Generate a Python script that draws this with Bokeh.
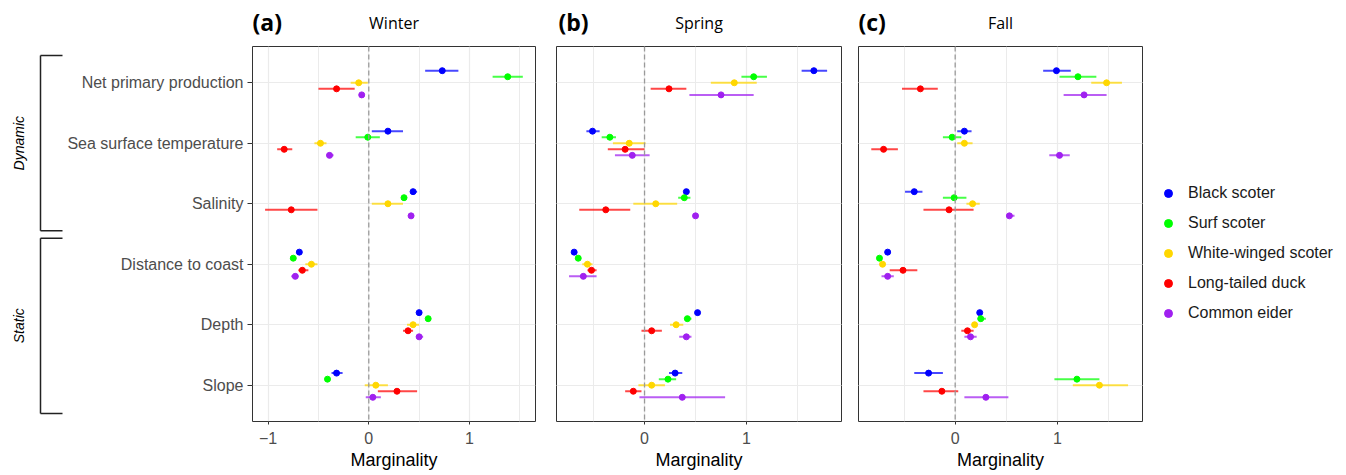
import math
from bokeh.plotting import figure
from bokeh.models import Range1d, FixedTicker, Span, Legend, LegendItem, Grid
from bokeh.layouts import row, column
from bokeh.embed import file_html
from bokeh.resources import INLINE
from bokeh.core.properties import value

# ---------------- data ----------------
variables = ["Net primary production", "Sea surface temperature", "Salinity",
             "Distance to coast", "Depth", "Slope"]
species = ["Black scoter", "Surf scoter", "White-winged scoter", "Long-tailed duck", "Common eider"]
colors = ["#0000FF", "#00FF00", "#FFD700", "#FF0000", "#A020F0"]
seasons = ["Winter", "Spring", "Fall"]
panel_tags = ["(a)", "(b)", "(c)"]
groups = ["Dynamic", "Static"]
x_ticks = [-1, 0, 1]
x_minor_ticks = [-1.5, -0.5, 0.5, 1.5]

# rows = species, columns = variables
winter_est = [[0.73, 0.19, 0.44, -0.69, 0.50, -0.32],
              [1.38, -0.01, 0.35, -0.75, 0.59, -0.41],
              [-0.10, -0.48, 0.19, -0.57, 0.44, 0.07],
              [-0.32, -0.84, -0.77, -0.66, 0.39, 0.28],
              [-0.07, -0.39, 0.42, -0.73, 0.50, 0.04]]
winter_lo = [[0.56, 0.03, 0.42, -0.70, 0.49, -0.37],
             [1.23, -0.13, 0.33, -0.76, 0.58, -0.42],
             [-0.18, -0.54, 0.03, -0.63, 0.38, -0.04],
             [-0.50, -0.91, -1.03, -0.70, 0.34, 0.09],
             [-0.08, -0.42, 0.41, -0.77, 0.47, -0.03]]
winter_hi = [[0.89, 0.34, 0.48, -0.68, 0.51, -0.26],
             [1.53, 0.11, 0.38, -0.74, 0.60, -0.40],
             [-0.01, -0.42, 0.34, -0.51, 0.50, 0.19],
             [-0.14, -0.76, -0.51, -0.60, 0.44, 0.48],
             [-0.06, -0.35, 0.43, -0.70, 0.54, 0.12]]

spring_est = [[1.66, -0.51, 0.41, -0.69, 0.52, 0.30],
              [1.07, -0.34, 0.39, -0.65, 0.42, 0.23],
              [0.88, -0.15, 0.11, -0.56, 0.31, 0.07],
              [0.24, -0.19, -0.38, -0.52, 0.07, -0.11],
              [0.75, -0.12, 0.50, -0.60, 0.41, 0.37]]
spring_lo = [[1.54, -0.57, 0.40, -0.70, 0.51, 0.24],
             [0.95, -0.42, 0.33, -0.66, 0.39, 0.14],
             [0.65, -0.31, -0.11, -0.61, 0.25, -0.06],
             [0.06, -0.36, -0.64, -0.56, -0.03, -0.19],
             [0.44, -0.29, 0.49, -0.74, 0.34, -0.05]]
spring_hi = [[1.79, -0.44, 0.42, -0.68, 0.53, 0.37],
             [1.20, -0.28, 0.45, -0.64, 0.46, 0.31],
             [1.10, 0.01, 0.32, -0.51, 0.38, 0.20],
             [0.41, 0.00, -0.14, -0.47, 0.17, -0.03],
             [1.07, 0.05, 0.51, -0.47, 0.46, 0.79]]

fall_est = [[0.99, 0.09, -0.40, -0.66, 0.24, -0.26],
            [1.20, -0.03, -0.01, -0.74, 0.25, 1.19],
            [1.48, 0.09, 0.17, -0.71, 0.19, 1.41],
            [-0.34, -0.70, -0.06, -0.51, 0.12, -0.13],
            [1.26, 1.02, 0.53, -0.66, 0.15, 0.30]]
fall_lo = [[0.86, 0.02, -0.49, -0.67, 0.23, -0.40],
           [1.02, -0.12, -0.12, -0.75, 0.22, 0.97],
           [1.33, 0.02, 0.11, -0.73, 0.18, 1.15],
           [-0.52, -0.82, -0.31, -0.64, 0.06, -0.31],
           [1.06, 0.92, 0.50, -0.72, 0.09, 0.09]]
fall_hi = [[1.13, 0.16, -0.32, -0.65, 0.25, -0.12],
           [1.38, 0.06, 0.11, -0.73, 0.30, 1.41],
           [1.63, 0.17, 0.24, -0.69, 0.21, 1.69],
           [-0.17, -0.56, 0.18, -0.37, 0.18, 0.03],
           [1.48, 1.12, 0.58, -0.60, 0.21, 0.52]]

season_data = [(winter_est, winter_lo, winter_hi),
               (spring_est, spring_lo, spring_hi),
               (fall_est, fall_lo, fall_hi)]

# ---------------- layout constants ----------------
HEAD_H = 46
FRAME_H = 376
B_BOT = 50
PANEL_H = FRAME_H + B_BOT
TOTAL_H = HEAD_H + PANEL_H
Y_START, Y_END = 6.6, 0.4
dodge = [-0.2, -0.1, 0.0, 0.1, 0.2]
x_ranges = [(-1.155, 1.656), (-0.863, 1.931), (-0.945, 1.831)]
borders = [(187, 5), (16, 5), (12, 5)]
frame_w = [284, 285, 284]
tag_dx = [0, 2, 0]

AXIS_FONT = "Liberation Sans"
TITLE_FONT = "Open Sans"
GRID_C = "#EBEBEB"


def bare(p):
    p.outline_line_color = None
    p.grid.visible = False
    p.background_fill_color = "white"
    p.border_fill_color = "white"
    return p


def make_panel(k):
    est, lo, hi = season_data[k]
    bl, br = borders[k]
    xr = x_ranges[k]
    width = bl + frame_w[k] + br
    show_y = (k == 0)
    p = figure(width=width, height=PANEL_H,
               x_range=Range1d(*xr), y_range=Range1d(Y_START, Y_END),
               output_backend="svg", toolbar_location=None,
               min_border_left=bl, min_border_right=br,
               min_border_top=0, min_border_bottom=B_BOT,
               y_axis_location="left" if show_y else None)
    p.outline_line_color = "#333333"
    p.outline_line_width = 1
    p.background_fill_color = "white"
    p.border_fill_color = "white"

    xt = FixedTicker(ticks=x_ticks, minor_ticks=x_minor_ticks)
    p.xaxis.ticker = xt
    p.xaxis.axis_label = "Marginality"
    p.xaxis.axis_label_text_font = AXIS_FONT
    p.xaxis.axis_label_text_font_size = "18px"
    p.xaxis.axis_label_text_font_style = "normal"
    p.xaxis.axis_label_text_color = "#000000"
    p.xaxis.axis_label_standoff = 3
    p.xaxis.major_label_text_font = AXIS_FONT
    p.xaxis.major_label_text_font_size = "16px"
    p.xaxis.major_label_text_color = "#4D4D4D"
    p.xaxis.major_label_standoff = 7
    p.xaxis.major_tick_out = 3
    p.xaxis.major_tick_in = 0
    p.xaxis.minor_tick_out = 0
    p.xaxis.minor_tick_in = 0
    p.xaxis.major_tick_line_color = "#333333"
    p.xaxis.axis_line_color = None
    p.xgrid.grid_line_color = GRID_C
    p.xgrid.grid_line_width = 1.2
    p.xgrid.minor_grid_line_color = GRID_C
    p.xgrid.minor_grid_line_width = 1

    yt = FixedTicker(ticks=list(range(1, len(variables) + 1)), minor_ticks=[])
    if show_y:
        p.yaxis.ticker = yt
        p.yaxis.major_label_overrides = {i + 1: v for i, v in enumerate(variables)}
        p.yaxis.major_label_text_font = AXIS_FONT
        p.yaxis.major_label_text_font_size = "16px"
        p.yaxis.major_label_text_color = "#4D4D4D"
        p.yaxis.major_label_standoff = 4
        p.yaxis.major_tick_out = 5
        p.yaxis.major_tick_in = 0
        p.yaxis.minor_tick_out = 0
        p.yaxis.minor_tick_in = 0
        p.yaxis.major_tick_line_color = "#333333"
        p.yaxis.axis_line_color = None
        p.ygrid.grid_line_color = GRID_C
        p.ygrid.grid_line_width = 1.2
    else:
        p.add_layout(Grid(dimension=1, ticker=yt, grid_line_color=GRID_C, grid_line_width=1.2))

    p.add_layout(Span(location=0, dimension="height", line_color="#9A9A9A",
                      line_dash="5 3", line_width=1.3))

    for s in range(len(species)):
        ys = [i + 1 + dodge[s] for i in range(len(variables))]
        p.segment(x0=lo[s], y0=ys, x1=hi[s], y1=ys, line_color=colors[s],
                  line_width=2, line_alpha=0.72)
        p.scatter(x=est[s], y=ys, size=6, fill_color=colors[s], line_color=colors[s])

    # header with panel tag and season title; its frame is aligned with the panel frame
    h = figure(width=width, height=HEAD_H, x_range=Range1d(0, frame_w[k]), y_range=Range1d(0, HEAD_H),
               output_backend="svg", toolbar_location=None,
               min_border_left=bl, min_border_right=br, min_border_top=0, min_border_bottom=0,
               x_axis_location=None, y_axis_location=None)
    bare(h)
    h.text(x=[tag_dx[k]], y=[HEAD_H - 21], text=[panel_tags[k]],
           text_font=value(TITLE_FONT), text_font_style="bold", text_font_size="23px",
           text_align="left", text_baseline="middle", text_color="#000000")
    h.text(x=[frame_w[k] / 2], y=[HEAD_H - 22], text=[seasons[k]],
           text_font=value(TITLE_FONT), text_font_size="16px",
           text_align="center", text_baseline="middle", text_color="#000000")
    return column(h, p)


cols = [make_panel(k) for k in range(3)]

# legend figure: key glyphs sit outside its visible range, only the legend is shown
LEG_W = 190
lf = figure(width=LEG_W, height=TOTAL_H, x_range=Range1d(0, 1), y_range=Range1d(0, 1),
            output_backend="svg", toolbar_location=None,
            min_border_left=0, min_border_right=0, min_border_top=0, min_border_bottom=0,
            x_axis_location=None, y_axis_location=None)
bare(lf)
leg_rends = [lf.scatter(x=[-5], y=[-5], size=5, fill_color=colors[s], line_color=colors[s])
             for s in range(len(species))]
legend = Legend(items=[LegendItem(label=species[s], renderers=[leg_rends[s]]) for s in range(len(species))],
                location=(11, 99), orientation="vertical",
                border_line_color=None, background_fill_alpha=0,
                label_text_font=AXIS_FONT, label_text_font_size="16px", label_text_color="#1A1A1A",
                glyph_width=20, glyph_height=20, label_height=20, spacing=10,
                padding=0, margin=0, label_standoff=10)
lf.add_layout(legend)

# bracket figure
BR_W = 64
bf = figure(width=BR_W, height=TOTAL_H, x_range=Range1d(0, BR_W), y_range=Range1d(Y_START, Y_END),
            output_backend="svg", toolbar_location=None,
            min_border_left=0, min_border_right=0, min_border_top=HEAD_H, min_border_bottom=B_BOT,
            x_axis_location=None, y_axis_location=None)
bare(bf)
group_ranges = [(0.55, 3.44), (3.56, 6.45)]
for g, (y0, y1) in zip(groups, group_ranges):
    bf.segment(x0=[40, 40, 40], y0=[y0, y0, y1], x1=[40, 62, 62], y1=[y1, y0, y1],
               line_color="#222222", line_width=1.5)
    bf.text(x=[18], y=[(y0 + y1) / 2], text=[g], angle=math.pi / 2,
            text_font=value(AXIS_FONT), text_font_style="italic", text_font_size="14px",
            text_align="center", text_baseline="middle", text_color="#000000")

layout = row(bf, cols[0], cols[1], cols[2], lf)
open("out.html", "w").write(file_html(layout, INLINE))
